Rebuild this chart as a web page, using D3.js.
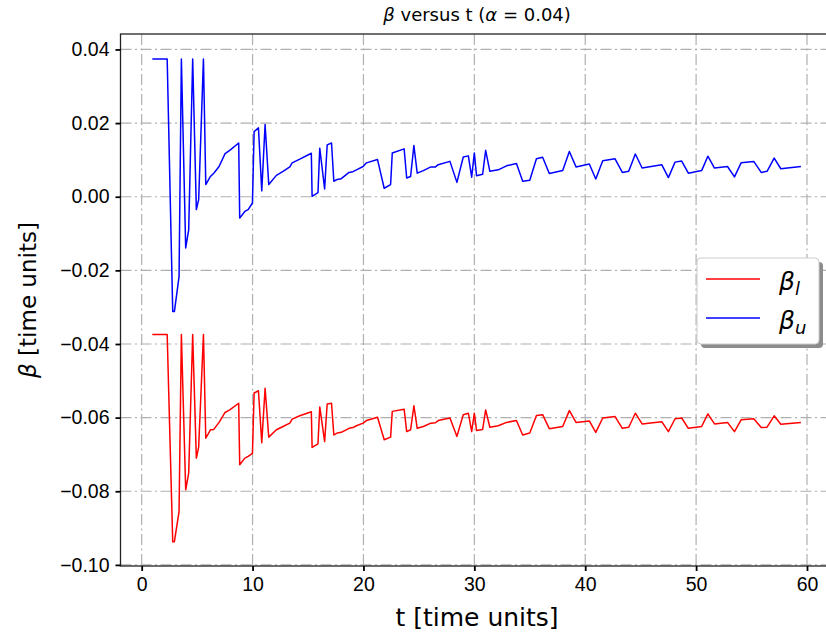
<!DOCTYPE html>
<html>
<head>
<meta charset="utf-8">
<script src="https://cdn.jsdelivr.net/npm/d3@7"></script>
<style>
	body { margin: 0; background: #fff; }
	svg { font-family: 'DejaVu Sans', sans-serif; }
	.grid line { stroke: #b0b0b0; stroke-width: 1.2; stroke-dasharray: 11,3.5,2,3.5; }
	.axis line { stroke: #000; stroke-width: 1.8; }
	.axis text { font-size: 19.5px; fill: #000; }
</style>
</head>
<body>
<div class="container"></div>
<script>
// time points (shared by both bounds)
var tVals = [0.96, 2.3, 2.8, 2.95, 3.37, 3.58, 3.97, 4.24, 4.6, 4.93, 5.14, 5.57, 5.78, 6.2, 6.5, 6.98,
	7.52, 7.94, 8.75, 8.84, 9.3, 9.6, 9.99, 10.14, 10.53, 10.83, 11.13, 11.46, 12.15, 12.75, 13.36,
	13.57, 14.26, 15.3, 15.37, 15.9, 16.06, 16.5, 16.73, 17.12, 17.33, 17.63, 18.0, 18.7, 19.05, 19.37,
	19.97, 20.27, 21.27, 21.87, 22.45, 22.6, 23.67, 23.9, 24.25, 24.55, 24.85, 25.4, 26.08, 26.5, 26.74,
	27.8, 28.43, 29.0, 29.46, 29.76, 30.0, 30.2, 30.75, 31.02, 31.4, 32.16, 32.9, 33.8, 34.36, 35.0,
	35.6, 36.16, 36.76, 37.97, 38.57, 39.17, 40.37, 40.95, 41.58, 42.69, 43.35, 43.92, 44.52, 45.13,
	46.9, 47.5, 48.1, 48.7, 49.3, 50.5, 51.06, 51.66, 52.83, 53.46, 54.06, 55.2, 55.87, 56.4, 57.04,
	57.64, 59.45];

var betaUpper = [0.0374, 0.0374, -0.0312, -0.0312, -0.0217, 0.0374, -0.0139, -0.009, 0.0374, -0.0035,
	-0.0008, 0.0374, 0.0033, 0.0055, 0.0064, 0.0082, 0.0117, 0.0126, 0.0146, -0.0058, -0.004, -0.0035,
	-0.0017, 0.0177, 0.0187, 0.0016, 0.0196, 0.0033, 0.0058, 0.0069, 0.0081, 0.0092, 0.0102, 0.0118,
	0.0001, 0.0011, 0.0132, 0.0021, 0.0141, 0.0146, 0.0042, 0.0047, 0.0049, 0.0066, 0.0068, 0.0073,
	0.0082, 0.0092, 0.0101, 0.0023, 0.0033, 0.0119, 0.013, 0.0051, 0.0055, 0.0139, 0.0064, 0.0071,
	0.0081, 0.0081, 0.0087, 0.0096, 0.0039, 0.0108, 0.0111, 0.0053, 0.0119, 0.0057, 0.0061, 0.0126,
	0.0069, 0.0073, 0.0084, 0.009, 0.0042, 0.0045, 0.0103, 0.0107, 0.0063, 0.0071, 0.0123, 0.0081,
	0.0089, 0.0048, 0.0098, 0.0103, 0.0066, 0.0069, 0.0116, 0.0078, 0.0087, 0.0052, 0.0094, 0.0097,
	0.0064, 0.0071, 0.011, 0.0078, 0.0082, 0.0054, 0.0092, 0.0096, 0.0066, 0.0069, 0.0105, 0.0076, 0.0082];

var betaLower = [-0.0374, -0.0374, -0.0937, -0.0937, -0.0855, -0.0374, -0.0796, -0.0751, -0.0374, -0.071,
	-0.068, -0.0374, -0.0656, -0.0633, -0.0632, -0.0613, -0.0586, -0.0579, -0.0561, -0.0728, -0.071,
	-0.0705, -0.0697, -0.0533, -0.0527, -0.0668, -0.052, -0.0653, -0.0633, -0.0624, -0.0615, -0.0604,
	-0.0595, -0.0584, -0.0681, -0.0671, -0.0571, -0.0665, -0.0563, -0.0561, -0.0647, -0.0642, -0.064,
	-0.0629, -0.0627, -0.0622, -0.0615, -0.0608, -0.0599, -0.066, -0.0653, -0.0583, -0.0577, -0.0638,
	-0.0633, -0.0568, -0.0629, -0.0624, -0.0615, -0.0614, -0.0608, -0.0601, -0.0651, -0.0592, -0.0588,
	-0.0638, -0.0588, -0.0635, -0.0632, -0.0579, -0.0626, -0.0622, -0.0613, -0.0608, -0.0647, -0.0642,
	-0.0594, -0.0592, -0.063, -0.0624, -0.0581, -0.0613, -0.0609, -0.064, -0.0601, -0.0597, -0.0629,
	-0.0626, -0.0588, -0.0617, -0.0611, -0.0638, -0.0603, -0.0601, -0.0629, -0.0624, -0.059, -0.0617,
	-0.0613, -0.0638, -0.0606, -0.0603, -0.0627, -0.0626, -0.0595, -0.0618, -0.0613];

var xTicks = [0, 10, 20, 30, 40, 50, 60];
var yTicks = [0.04, 0.02, 0.00, -0.02, -0.04, -0.06, -0.08, -0.10];

var W = 826, H = 637;
var plotL = 120.5, plotR = 833.6, plotT = 34, plotB = 566;

var svg = d3.select('.container')
	.append('svg')
	.attr('width', W)
	.attr('height', H);

var x = d3.scaleLinear().domain([-1.91, 62.4]).range([plotL, plotR]);
var y = d3.scaleLinear().domain([-0.1003, 0.0442]).range([plotB, plotT]);

// grid
var grid = svg.append('g').classed('grid', true);
grid.selectAll('.gx')
	.data(xTicks)
	.enter().append('line')
	.attr('x1', function (d) { return x(d); })
	.attr('x2', function (d) { return x(d); })
	.attr('y1', plotT)
	.attr('y2', plotB);
grid.selectAll('.gy')
	.data(yTicks)
	.enter().append('line')
	.attr('x1', plotL)
	.attr('x2', plotR)
	.attr('y1', function (d) { return y(d); })
	.attr('y2', function (d) { return y(d); });

// lines
var line = d3.line()
	.x(function (d) { return x(d[0]); })
	.y(function (d) { return y(d[1]); });

var series = [
	{ name: 'l', values: betaLower, color: '#ff0000' },
	{ name: 'u', values: betaUpper, color: '#0000ff' }
];

svg.append('g').selectAll('path')
	.data(series)
	.enter().append('path')
	.attr('fill', 'none')
	.attr('stroke', function (d) { return d.color; })
	.attr('stroke-width', 1.5)
	.attr('stroke-linejoin', 'round')
	.attr('d', function (d) {
		return line(tVals.map(function (t, i) { return [t, d.values[i]]; }));
	});

// frame
svg.append('rect')
	.attr('x', plotL)
	.attr('y', plotT)
	.attr('width', plotR - plotL)
	.attr('height', plotB - plotT)
	.attr('fill', 'none')
	.attr('stroke', '#222')
	.attr('stroke-width', 1.3);

// axes
var minus = function (d) { return d3.format('.2f')(d).replace('-', '\u2212'); };

svg.append('g')
	.classed('axis', true)
	.attr('transform', 'translate(0,' + plotB + ')')
	.call(d3.axisBottom(x).tickValues(xTicks).tickSize(5).tickSizeOuter(0).tickPadding(6))
	.call(function (g) { g.select('.domain').remove(); });

svg.append('g')
	.classed('axis', true)
	.attr('transform', 'translate(' + plotL + ',0)')
	.call(d3.axisLeft(y).tickValues(yTicks).tickFormat(minus).tickSize(5).tickSizeOuter(0).tickPadding(6))
	.call(function (g) { g.select('.domain').remove(); });

// title
var title = svg.append('text')
	.attr('x', (plotL + plotR) / 2)
	.attr('y', 21)
	.attr('text-anchor', 'middle')
	.style('font-size', '18px');
title.append('tspan').style('font-style', 'italic').text('β');
title.append('tspan').text(' versus t (');
title.append('tspan').style('font-style', 'italic').text('α');
title.append('tspan').text(' = 0.04)');

// axis labels
svg.append('text')
	.attr('x', (plotL + plotR) / 2)
	.attr('y', 626)
	.attr('text-anchor', 'middle')
	.style('font-size', '25px')
	.text('t [time units]');

var yl = svg.append('text')
	.attr('transform', 'translate(36,' + ((plotT + plotB) / 2) + ') rotate(-90)')
	.attr('text-anchor', 'middle')
	.style('font-size', '23px');
yl.append('tspan').style('font-style', 'italic').text('β');
yl.append('tspan').text(' [time units]');

// legend
var legend = svg.append('g').attr('transform', 'translate(697,258)');
legend.append('rect')
	.attr('x', 4).attr('y', 4)
	.attr('width', 122).attr('height', 86)
	.attr('rx', 4)
	.attr('fill', '#8c8c8c');
legend.append('rect')
	.attr('width', 122).attr('height', 86)
	.attr('rx', 4)
	.attr('fill', '#fff')
	.attr('stroke', '#cccccc');

var items = legend.selectAll('.item')
	.data(series)
	.enter().append('g')
	.attr('transform', function (d, i) { return 'translate(0,' + (21 + i * 39) + ')'; });
items.append('line')
	.attr('x1', 9).attr('x2', 63)
	.attr('stroke', function (d) { return d.color; })
	.attr('stroke-width', 1.5);
var lt = items.append('text')
	.attr('x', 82)
	.attr('y', 11)
	.style('font-size', '25px')
	.style('font-style', 'italic');
lt.append('tspan').text('β');
lt.append('tspan')
	.attr('dy', 5)
	.style('font-size', '18px')
	.text(function (d) { return d.name; });
</script>
</body>
</html>
